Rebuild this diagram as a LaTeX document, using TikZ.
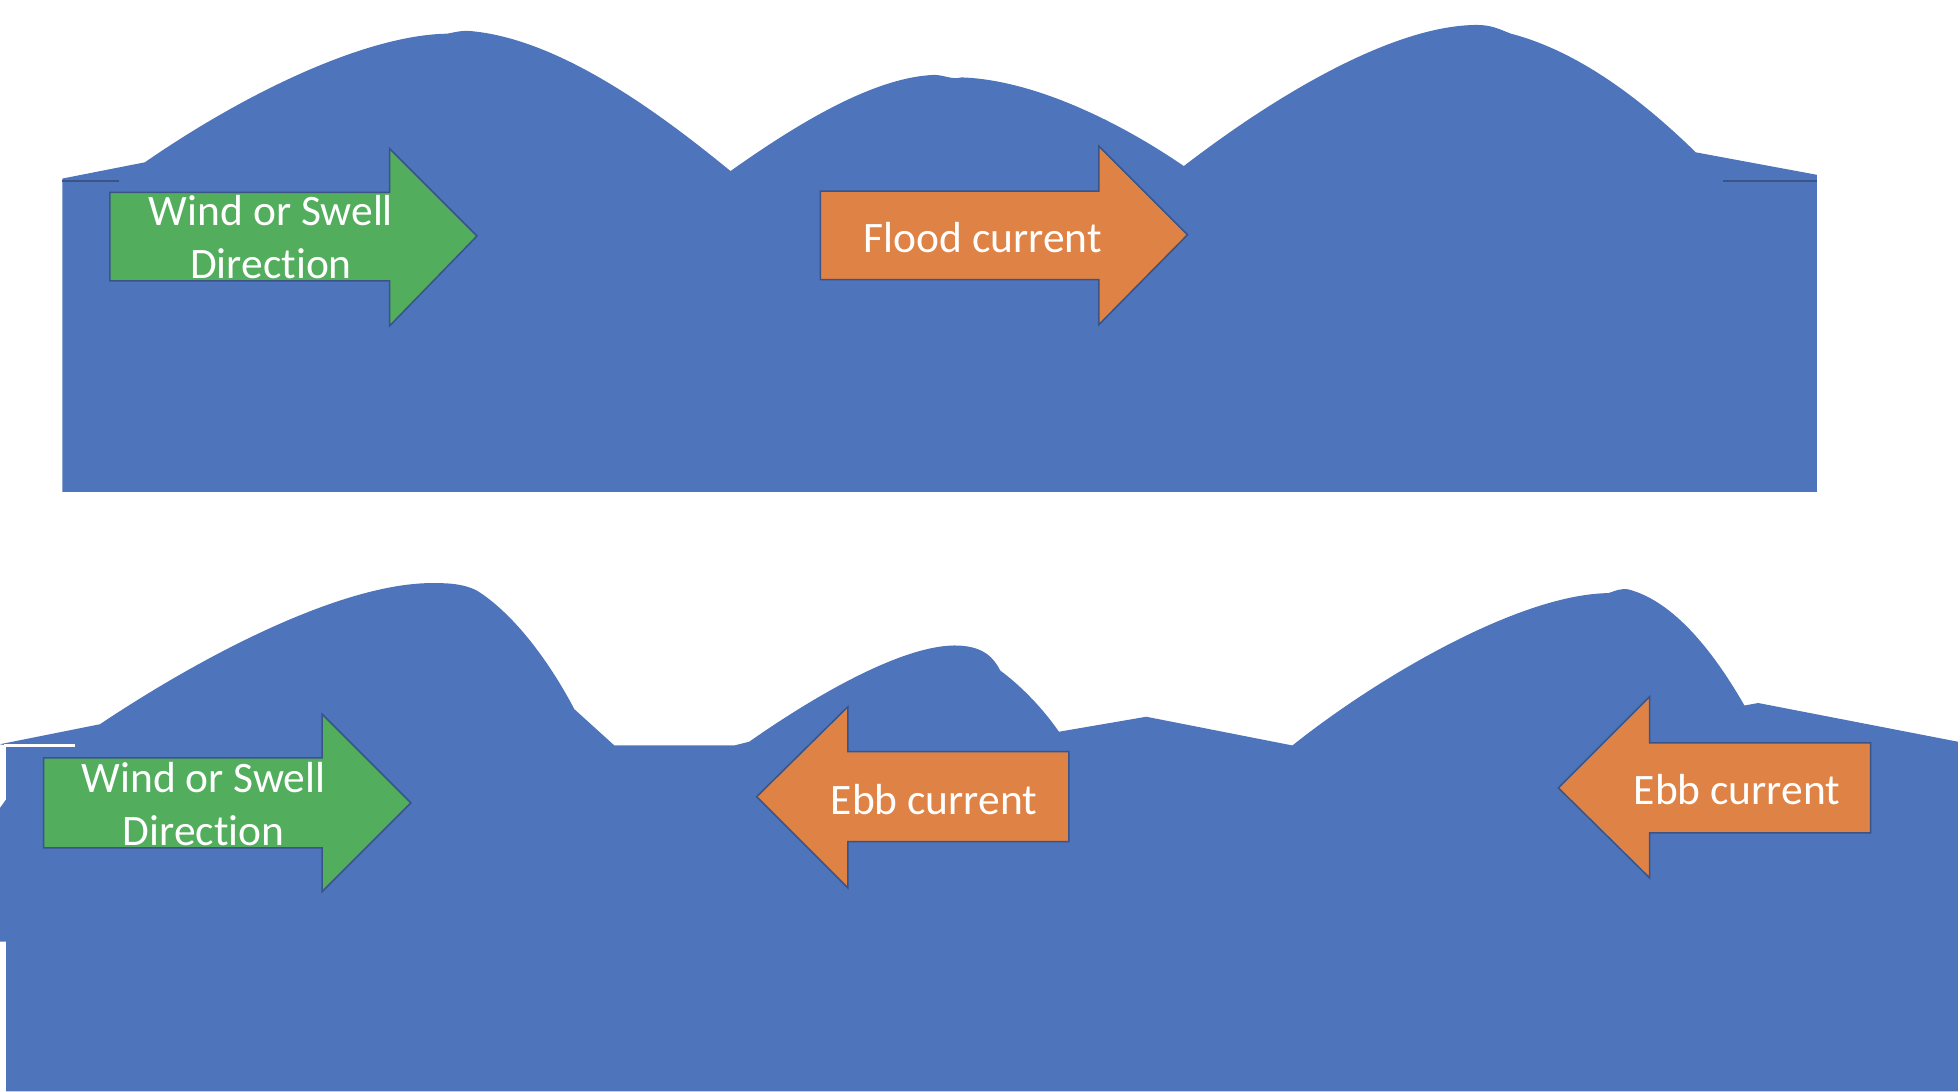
\documentclass[tikz,border=0pt]{standalone}
\usepackage{fontspec}
\setmainfont{Carlito}[Ligatures=NoCommon]
\definecolor{sea}{HTML}{4E74BC}
\definecolor{grn}{HTML}{52AD5C}
\definecolor{org}{HTML}{DF8246}
\definecolor{edge}{HTML}{3A5488}
\begin{document}
\begin{tikzpicture}[x=0.01cm,y=-0.01cm,
  wave/.style={fill=sea},
  greenarrow/.style={fill=grn,draw=edge,line width=0.35pt,line join=miter},
  orangearrow/.style={fill=org,draw=edge,line width=0.35pt,line join=miter},
  lbl/.style={text=white,font=\fontsize{9.9}{11.95}\selectfont,align=center,inner sep=0pt},
  seam/.style={draw=edge,line width=0.3pt}]
\useasboundingbox (0,0) rectangle (1568,874);
% ---------- top panel ----------
\path[wave] (50,394) -- (50,143) -- (116,130)
  .. controls (200,72) and (295,28) .. (358,27)
  .. controls (364,26) and (370,24) .. (378,25)
  .. controls (450,32) and (530,92) .. (585,137)
  .. controls (640,98) and (700,62) .. (748,60)
  .. controls (756,60) and (762,64) .. (770,62)
  .. controls (830,64) and (900,100) .. (948,133)
  .. controls (1030,70) and (1120,20) .. (1183,20)
  .. controls (1195,20) and (1202,24) .. (1210,27)
  .. controls (1260,40) and (1310,75) .. (1358,122)
  -- (1455,140) -- (1455,394) -- cycle;
\draw[seam] (50,145) -- (95,145);
\draw[seam] (1380,145) -- (1455,145);
% green arrow (top)
\path[greenarrow] (88,154) -- (312,154) -- (312,119) -- (382,189) -- (312,261) -- (312,225) -- (88,225) -- cycle;
\node[lbl] (wind1) at (217,190) {Wind or Swell\\Direction};
% flood arrow
\path[orangearrow] (657,153) -- (880,153) -- (880,117) -- (951,188) -- (880,260) -- (880,224) -- (657,224) -- cycle;
\node[lbl] (flood) at (787,190) {Flood current};
% ---------- bottom panel ----------
\path[wave] (5,874) -- (5,754) -- (0,754) -- (0,647) -- (5,640) -- (5,597) -- (0,596) -- (80,580)
  .. controls (170,520) and (280,465) .. (350,467)
  .. controls (365,467) and (374,469) .. (382,473)
  .. controls (412,492) and (440,530) .. (460,568)
  -- (492,597) -- (588,597) -- (600,594)
  .. controls (660,552) and (728,515) .. (768,517)
  .. controls (788,518) and (796,527) .. (801,537)
  .. controls (820,551) and (837,570) .. (848,586)
  -- (918,574) -- (1035,597)
  .. controls (1100,545) and (1215,476) .. (1288,475)
  .. controls (1294,473) and (1298,471) .. (1304,472)
  .. controls (1342,482) and (1374,525) .. (1397,565)
  -- (1408,563) -- (1568,594) -- (1568,874) -- cycle;
\draw[white,line width=0.5pt] (3,597) -- (60,597);
% green arrow (bottom)
\path[greenarrow] (35,607) -- (258,607) -- (258,572) -- (329,643) -- (258,714) -- (258,679) -- (35,679) -- cycle;
\node[lbl] (wind2) at (163,644) {Wind or Swell\\Direction};
% ebb arrow 1
\path[orangearrow] (856,602) -- (679,602) -- (679,566) -- (606,638) -- (679,711) -- (679,674) -- (856,674) -- cycle;
\node[lbl] (ebb1) at (748,640) {Ebb current};
% ebb arrow 2
\path[orangearrow] (1498,595) -- (1321,595) -- (1321,558) -- (1248,631) -- (1321,703) -- (1321,667) -- (1498,667) -- cycle;
\node[lbl] (ebb2) at (1391,632) {Ebb current};
\end{tikzpicture}
\end{document}
